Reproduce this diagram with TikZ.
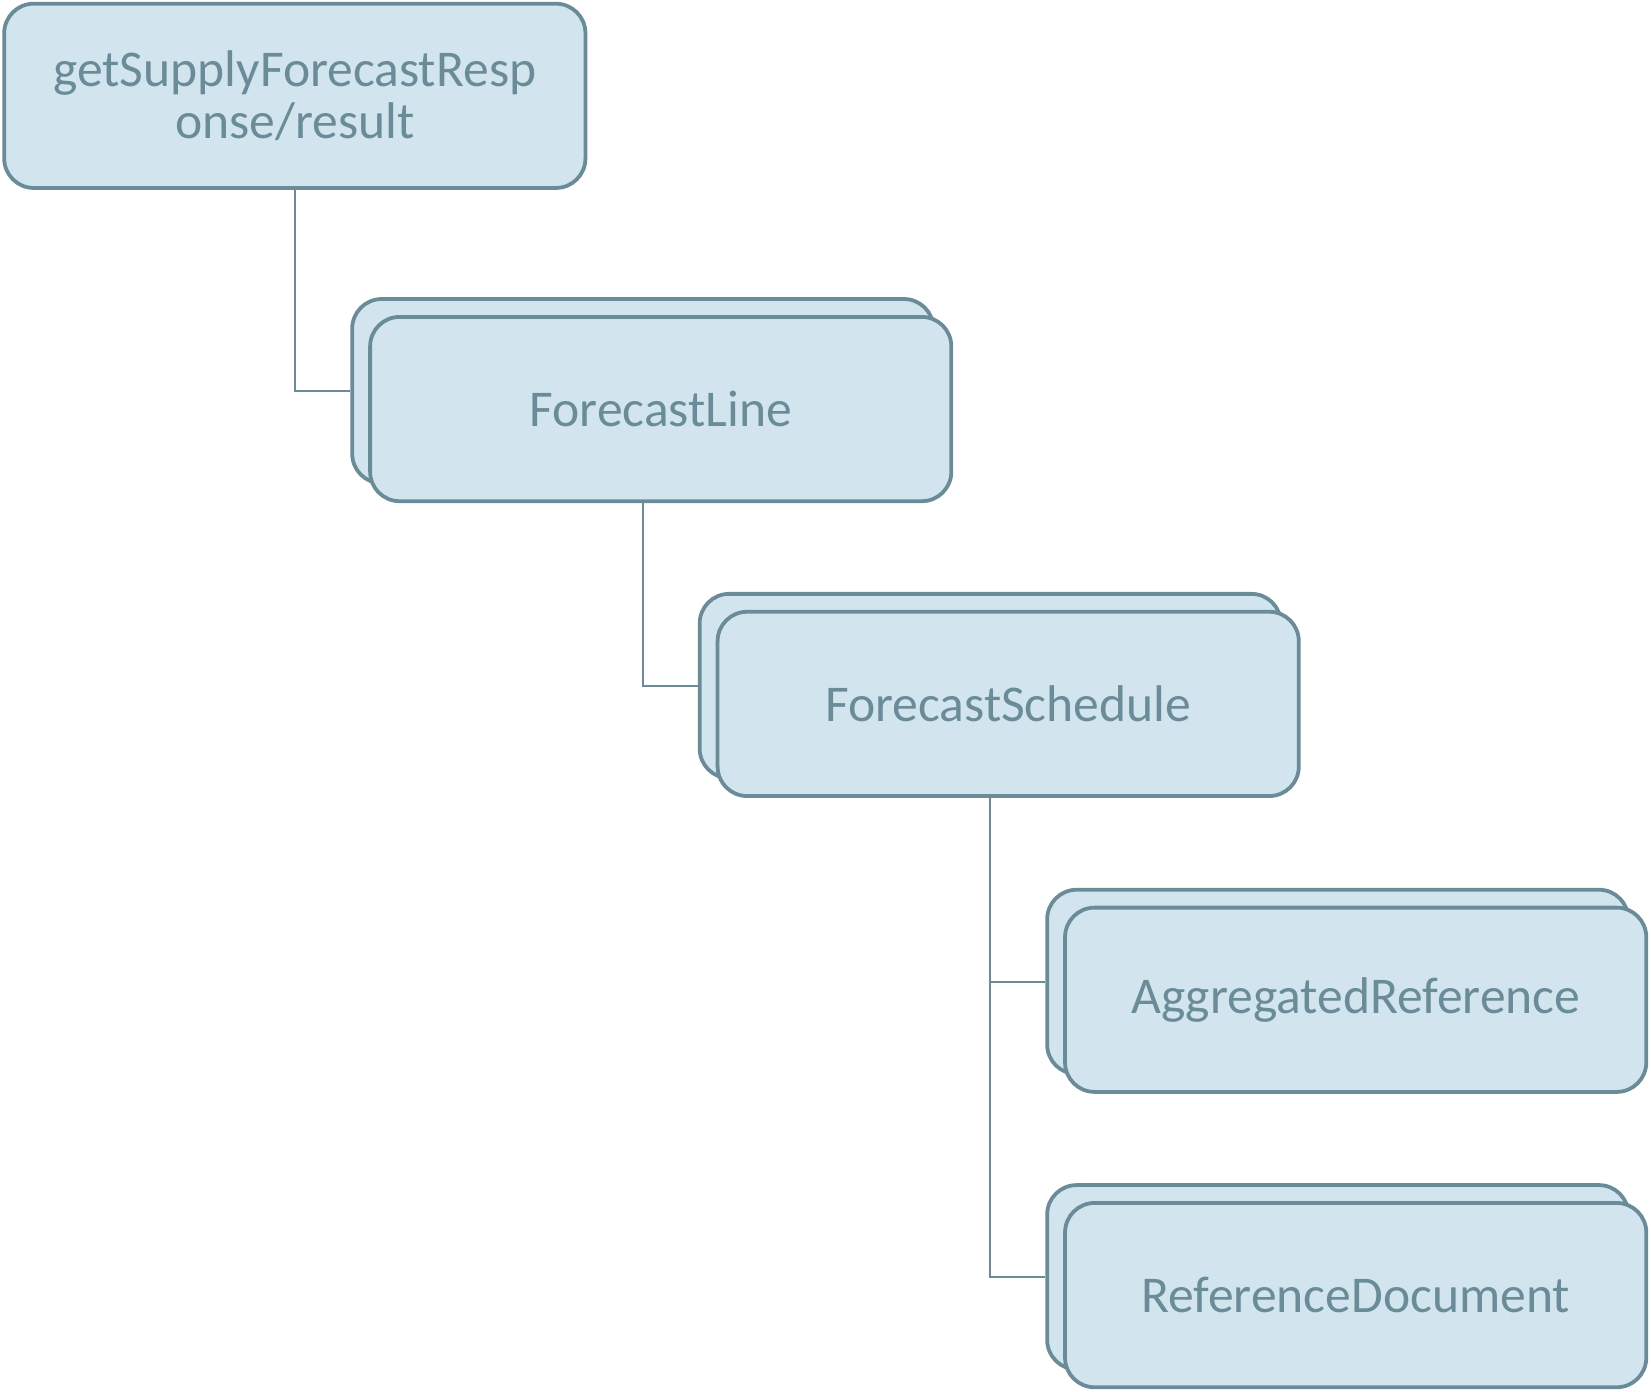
\documentclass[tikz,border=0pt]{standalone}
\usepackage{fontspec}
\setmainfont{Carlito}
\usetikzlibrary{backgrounds}
\definecolor{boxline}{RGB}{106,140,152}
\definecolor{boxfill}{RGB}{210,229,238}
\tikzset{
  elem/.style={draw=boxline,fill=boxfill,line width=3.6pt,rounded corners=28pt,
    minimum width=552pt,minimum height=175pt,inner sep=0pt,align=center,
    text=boxline,font=\fontsize{49}{50}\selectfont},
  link/.style={draw=boxline,line width=1.8pt}
}
\begin{document}
\begin{tikzpicture}[x=1pt,y=-1pt]
	\useasboundingbox (0,0) rectangle (1568,1322);
	\node[elem] (result) at (280,91) {getSupplyForecastResp\\onse/result};
	% stacked boxes: back copy first, then the front one
	\node[elem] (lineback) at (610.5,371.5) {};
	\node[elem,xshift=17pt,yshift=-17pt] (line) at (lineback.center) {ForecastLine};
	\node[elem] (schedback) at (940.5,651.5) {};
	\node[elem,xshift=17pt,yshift=-17pt] (sched) at (schedback.center) {ForecastSchedule};
	\node[elem] (aggback) at (1270.5,932.5) {};
	\node[elem,xshift=17pt,yshift=-17pt] (agg) at (aggback.center) {AggregatedReference};
	\node[elem] (refback) at (1270.5,1213) {};
	\node[elem,xshift=17pt,yshift=-17pt] (ref) at (refback.center) {ReferenceDocument};
	\begin{scope}[on background layer]
		\draw[link] (result.south) |- (lineback.west);
		\draw[link] (lineback.south) |- (schedback.west);
		\draw[link] (schedback.south) |- (aggback.west);
		\draw[link] (schedback.south) |- (refback.west);
	\end{scope}
\end{tikzpicture}
\end{document}
